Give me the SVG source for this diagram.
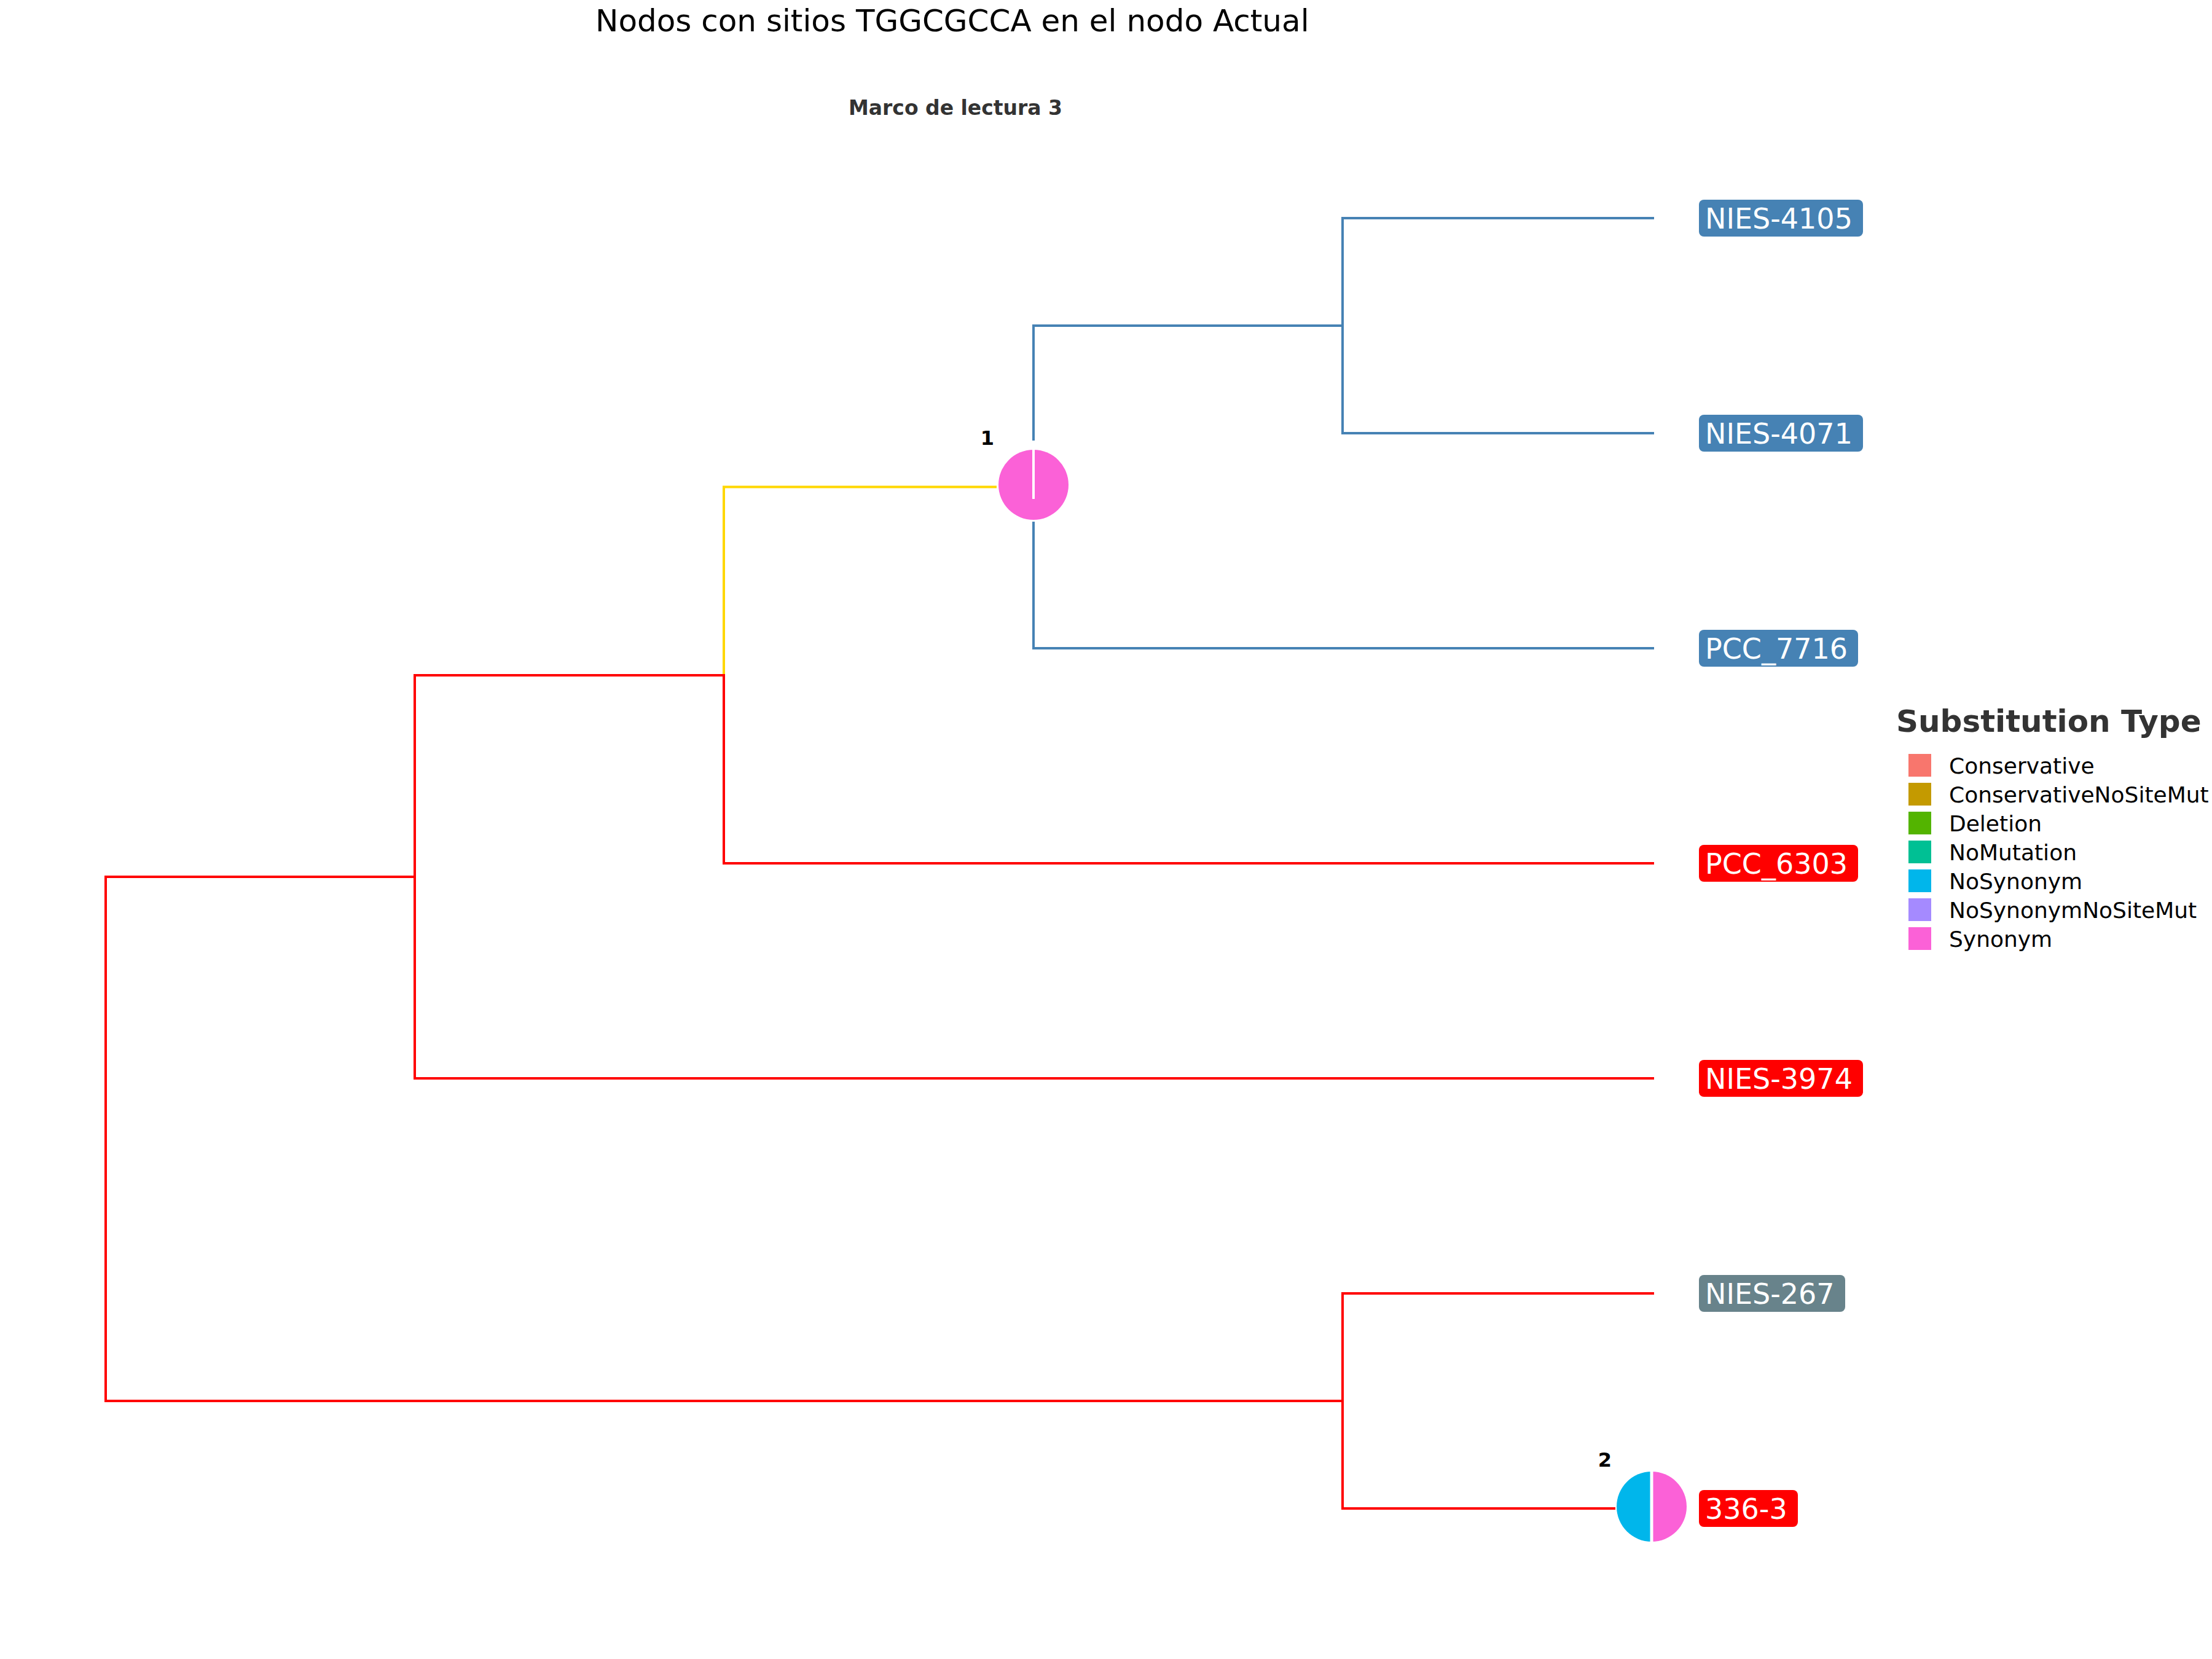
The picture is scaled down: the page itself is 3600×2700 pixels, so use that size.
<svg xmlns="http://www.w3.org/2000/svg" width="3600" height="2700" viewBox="0 0 3600 2700">
<style>
.e{fill:none;stroke-width:4;stroke-linecap:square;stroke-linejoin:miter}
.r{stroke:#FF0000}.b{stroke:#4682B4}.y{stroke:#FFD700}
.lab{font-family:"DejaVu Sans","Liberation Sans",sans-serif;font-size:46px;fill:#FFFFFF}
.nl{font-family:"DejaVu Sans","Liberation Sans",sans-serif;font-size:32px;font-weight:bold;fill:#000000;text-anchor:middle}
.lg{font-family:"DejaVu Sans","Liberation Sans",sans-serif;font-size:36px;fill:#000000}
</style>
<rect x="0" y="0" width="3600" height="2700" fill="#FFFFFF"/>
<text x="969" y="51" font-family="DejaVu Sans, Liberation Sans, sans-serif" font-size="50" fill="#000000">Nodos con sitios TGGCGCCA en el nodo Actual</text>
<text x="1555" y="187" font-family="DejaVu Sans, Liberation Sans, sans-serif" font-size="33" font-weight="bold" fill="#333333" text-anchor="middle">Marco de lectura 3</text>
<g id="connectors">
<path class="e r" d="M675 1427 H172 V2280 H2185"/>
<path class="e r" d="M1178 1099 H675 V1755 H2690"/>
<path class="e y" d="M1178 1099 V792.5 H1620"/>
<path class="e r" d="M1178 1099 V1405 H2690"/>
<path class="e b" d="M1682 715 V530 H2185"/>
<path class="e b" d="M1682 851 V1055 H2690"/>
<path class="e b" d="M2690 355 H2185 V705 H2690"/>
<path class="e r" d="M2690 2105 H2185 V2455 H2627"/>
</g>
<g id="node1">
<circle cx="1682" cy="789" r="57" fill="#FB61D7"/>
<line x1="1682" y1="730" x2="1682" y2="812" stroke="#FFFFFF" stroke-width="4"/>
<text class="nl" x="1607" y="724">1</text>
</g>
<g id="node2">
<path d="M2688 2395 A57 57 0 0 0 2688 2509 Z" fill="#00B6EB"/>
<path d="M2688 2395 A57 57 0 0 1 2688 2509 Z" fill="#FB61D7"/>
<line x1="2688" y1="2392" x2="2688" y2="2512" stroke="#FFFFFF" stroke-width="5"/>
<text class="nl" x="2612" y="2387">2</text>
</g>
<g id="tip-NIES-4105"><rect x="2765" y="325" width="267" height="60" rx="8" fill="#4682B4"/><text class="lab" x="2775" y="372">NIES-4105</text></g>
<g id="tip-NIES-4071"><rect x="2765" y="675" width="267" height="60" rx="8" fill="#4682B4"/><text class="lab" x="2775" y="722">NIES-4071</text></g>
<g id="tip-PCC_7716"><rect x="2765" y="1025" width="259" height="60" rx="8" fill="#4682B4"/><text class="lab" x="2775" y="1072">PCC_7716</text></g>
<g id="tip-PCC_6303"><rect x="2765" y="1375" width="259" height="60" rx="8" fill="#FF0000"/><text class="lab" x="2775" y="1422">PCC_6303</text></g>
<g id="tip-NIES-3974"><rect x="2765" y="1725" width="267" height="60" rx="8" fill="#FF0000"/><text class="lab" x="2775" y="1772">NIES-3974</text></g>
<g id="tip-NIES-267"><rect x="2765" y="2075" width="238" height="60" rx="8" fill="#68838B"/><text class="lab" x="2775" y="2122">NIES-267</text></g>
<g id="tip-336-3"><rect x="2765" y="2425" width="161" height="60" rx="8" fill="#FF0000"/><text class="lab" x="2775" y="2472">336-3</text></g>
<g id="legend">
<text x="3086" y="1191" font-family="DejaVu Sans, Liberation Sans, sans-serif" font-size="50" font-weight="bold" fill="#333333">Substitution Type</text>
<rect x="3106" y="1227" width="37" height="37" fill="#F8766D"/><text class="lg" x="3172" y="1259">Conservative</text>
<rect x="3106" y="1274" width="37" height="37" fill="#C49A00"/><text class="lg" x="3172" y="1306">ConservativeNoSiteMut</text>
<rect x="3106" y="1321" width="37" height="37" fill="#53B400"/><text class="lg" x="3172" y="1353">Deletion</text>
<rect x="3106" y="1368" width="37" height="37" fill="#00C094"/><text class="lg" x="3172" y="1400">NoMutation</text>
<rect x="3106" y="1415" width="37" height="37" fill="#00B6EB"/><text class="lg" x="3172" y="1447">NoSynonym</text>
<rect x="3106" y="1462" width="37" height="37" fill="#A58AFF"/><text class="lg" x="3172" y="1494">NoSynonymNoSiteMut</text>
<rect x="3106" y="1509" width="37" height="37" fill="#FB61D7"/><text class="lg" x="3172" y="1541">Synonym</text>
</g>
</svg>
